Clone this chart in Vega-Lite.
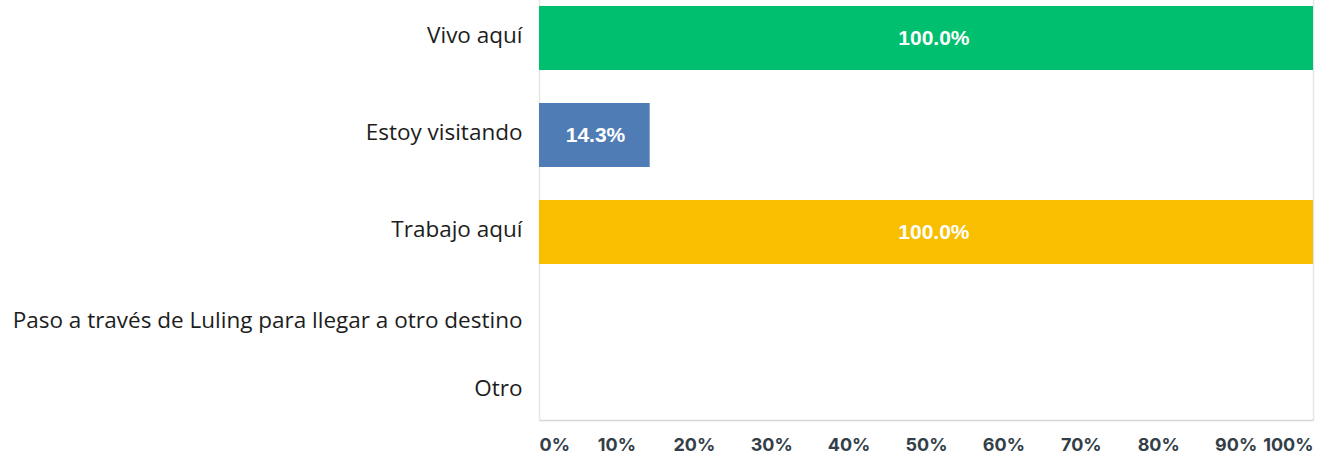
{
  "$schema": "https://vega.github.io/schema/vega-lite/v6.json",
  "width": 774,
  "height": 420,
  "autosize": "none",
  "padding": {"left": 539, "top": 0, "right": 31, "bottom": 39},
  "data": {
    "values": [
      {"answer": "Vivo aquí", "share": 1.0},
      {"answer": "Estoy visitando", "share": 0.143},
      {"answer": "Trabajo aquí", "share": 1.0},
      {"answer": "Paso a través de Luling para llegar a otro destino", "share": 0},
      {"answer": "Otro", "share": 0}
    ]
  },
  "encoding": {
    "y": {
      "field": "answer",
      "type": "nominal",
      "sort": null,
      "scale": {"range": [0, 464], "paddingInner": 0.34, "paddingOuter": 0.062},
      "axis": {
        "title": null,
        "domain": false,
        "ticks": false,
        "labelPadding": 17,
        "labelFont": "Open Sans",
        "labelFontSize": 22.5,
        "labelColor": "#1d1d1d",
        "labelLimit": 0,
        "labelOffset": {
          "condition": [
            {"test": "datum.value === 'Otro'", "value": -37},
            {"test": "datum.value === 'Paso a través de Luling para llegar a otro destino'", "value": -8}
          ],
          "value": -2
        }
      }
    }
  },
  "layer": [
    {
      "mark": {"type": "bar"},
      "encoding": {
        "x": {
          "field": "share",
          "type": "quantitative",
          "scale": {"domain": [0, 1], "nice": false},
          "axis": {
            "title": null,
            "values": [0, 0.1, 0.2, 0.3, 0.4, 0.5, 0.6, 0.7, 0.8, 0.9, 1],
            "format": ".0%",
            "labelFlush": true,
            "ticks": false,
            "labelPadding": 16,
            "labelFont": "Inter",
            "labelFontWeight": "bold",
            "labelFontSize": 18,
            "labelColor": "#333e48",
            "domainColor": "#d6d6d6",
            "domainWidth": 1.5,
            "grid": true,
            "gridColor": "#e6e6e6",
            "gridWidth": 1.5,
            "gridOpacity": {
              "condition": {"test": "datum.value === 0 || datum.value === 1", "value": 1},
              "value": 0
            }
          }
        },
        "color": {
          "field": "answer",
          "type": "nominal",
          "scale": {
            "domain": ["Vivo aquí", "Estoy visitando", "Trabajo aquí", "Paso a través de Luling para llegar a otro destino", "Otro"],
            "range": ["#00bf6f", "#507cb6", "#f9be00", "#6bc8cd", "#ff8b4f"]
          },
          "legend": null
        }
      }
    },
    {
      "transform": [{"filter": "datum.share > 0"}],
      "mark": {
        "type": "text",
        "font": "Liberation Sans",
        "fontWeight": "bold",
        "fontSize": 21,
        "color": "#ffffff",
        "baseline": "middle",
        "align": "center",
        "dy": 1
      },
      "encoding": {
        "x": {
          "field": "share",
          "type": "quantitative",
          "scale": {"domain": [0, 1.96], "nice": false},
          "axis": null
        },
        "text": {"field": "share", "type": "quantitative", "format": ".1%"}
      }
    }
  ],
  "resolve": {"scale": {"x": "independent"}},
  "config": {"view": {"stroke": null}}
}
